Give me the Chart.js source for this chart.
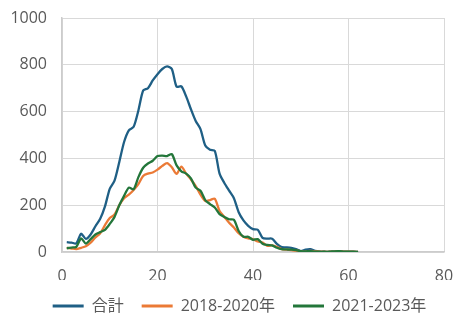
<!DOCTYPE html>
<html>
<head>
<meta charset="utf-8">
<script src="https://cdn.jsdelivr.net/npm/chart.js@4/dist/chart.umd.min.js"></script>
<style>
html,body{margin:0;padding:0;background:#fff;}
#wrap{width:472px;height:331px;position:relative;}
</style>
</head>
<body>
<div id="wrap"><canvas id="c" width="472" height="331"></canvas></div>
<script>
const xValues = [1,2,3,4,5,6,7,8,9,10,11,12,13,14,15,16,17,18,19,20,21,22,23,24,25,26,27,28,29,30,31,32,33,34,35,36,37,38,39,40,41,42,43,44,45,46,47,48,49,50,51,52,53,54,55,56,57,58,59,60,61,62];
const totalValues = [42,40,37,78,56,75,110,142,195,270,305,385,470,520,535,605,690,700,733,760,782,793,782,706,708,665,610,560,525,455,437,432,335,295,262,230,170,135,112,98,95,60,57,57,35,21,20,18,12,4,10,12,5,2,1,1,2,3,2,1,1,0];
const y1820Values = [18,15,12,18,25,40,62,80,115,145,160,200,230,245,265,290,325,335,340,352,368,380,362,334,365,335,310,282,245,218,222,228,175,150,125,105,80,65,58,55,45,40,26,28,22,12,10,8,6,3,2,5,3,2,1,1,2,2,2,1,1,0];
const y2123Values = [16,19,22,58,36,55,75,85,95,120,150,200,240,275,268,320,360,378,390,410,412,410,418,370,345,335,315,275,262,222,205,190,162,150,140,138,90,65,65,52,55,35,30,28,18,12,11,10,8,4,3,4,2,1,1,1,3,4,2,1,1,0];
const seriesLabels = ['合計','2018-2020年','2021-2023年'];
const xTicks = [0,20,40,60,80];
const yTicks = [0,200,400,600,800,1000];

const colors = ['#1F5F85','#EB7A36','#23763A'];
const FONT = "'Open Sans', 'Noto Sans CJK JP', sans-serif";
function pts(vals){ return xValues.map((x,i)=>({x:x,y:vals[i]})); }

new Chart(document.getElementById('c'), {
  type: 'line',
  data: {
    datasets: [
      {label: seriesLabels[0], data: pts(totalValues), borderColor: colors[0], backgroundColor: colors[0], order: 2},
      {label: seriesLabels[1], data: pts(y1820Values), borderColor: colors[1], backgroundColor: colors[1], order: 1},
      {label: seriesLabels[2], data: pts(y2123Values), borderColor: colors[2], backgroundColor: colors[2], order: 0}
    ]
  },
  options: {
    responsive: false,
    animation: false,
    devicePixelRatio: 1,
    elements: {
      line: {borderWidth: 2.3, tension: 0.25, fill: false},
      point: {radius: 0, hoverRadius: 0}
    },
    layout: {padding: {top: 18, right: 0, bottom: 7, left: 7}},
    plugins: {
      tooltip: {enabled: false},
      legend: {
        position: 'bottom',
        labels: {
          font: {family: FONT, size: 16},
          color: '#595959',
          boxWidth: 31,
          boxHeight: 3,
          padding: 18,
          sort: (a, b) => a.datasetIndex - b.datasetIndex,
          generateLabels: function(chart){
            const items = Chart.defaults.plugins.legend.labels.generateLabels(chart);
            items.forEach(it => { it.fillStyle = it.strokeStyle; it.lineWidth = 0; });
            return items;
          }
        }
      }
    },
    scales: {
      x: {
        type: 'linear', min: 0, max: 80,
        afterBuildTicks: s => { s.ticks = xTicks.map(v => ({value: v})); },
        ticks: {font: {family: FONT, size: 16}, color: '#595959', padding: 15, maxRotation: 0, callback: v => String(v)},
        grid: {color: '#d9d9d9', lineWidth: 1, drawTicks: false},
        border: {color: '#cccccc', width: 1.5},
        afterFit: s => { s.height = 28; s.paddingRight = 28; }
      },
      y: {
        min: 0, max: 1000,
        afterBuildTicks: s => { s.ticks = yTicks.map(v => ({value: v})); },
        ticks: {font: {family: FONT, size: 16}, color: '#595959', padding: 15, callback: v => String(v)},
        grid: {color: '#d9d9d9', lineWidth: 1, drawTicks: false},
        border: {color: '#cccccc', width: 1.5},
        afterFit: s => { s.width = 55; s.paddingTop = 0; s.paddingBottom = 0; }
      }
    }
  }
});
</script>
</body>
</html>
